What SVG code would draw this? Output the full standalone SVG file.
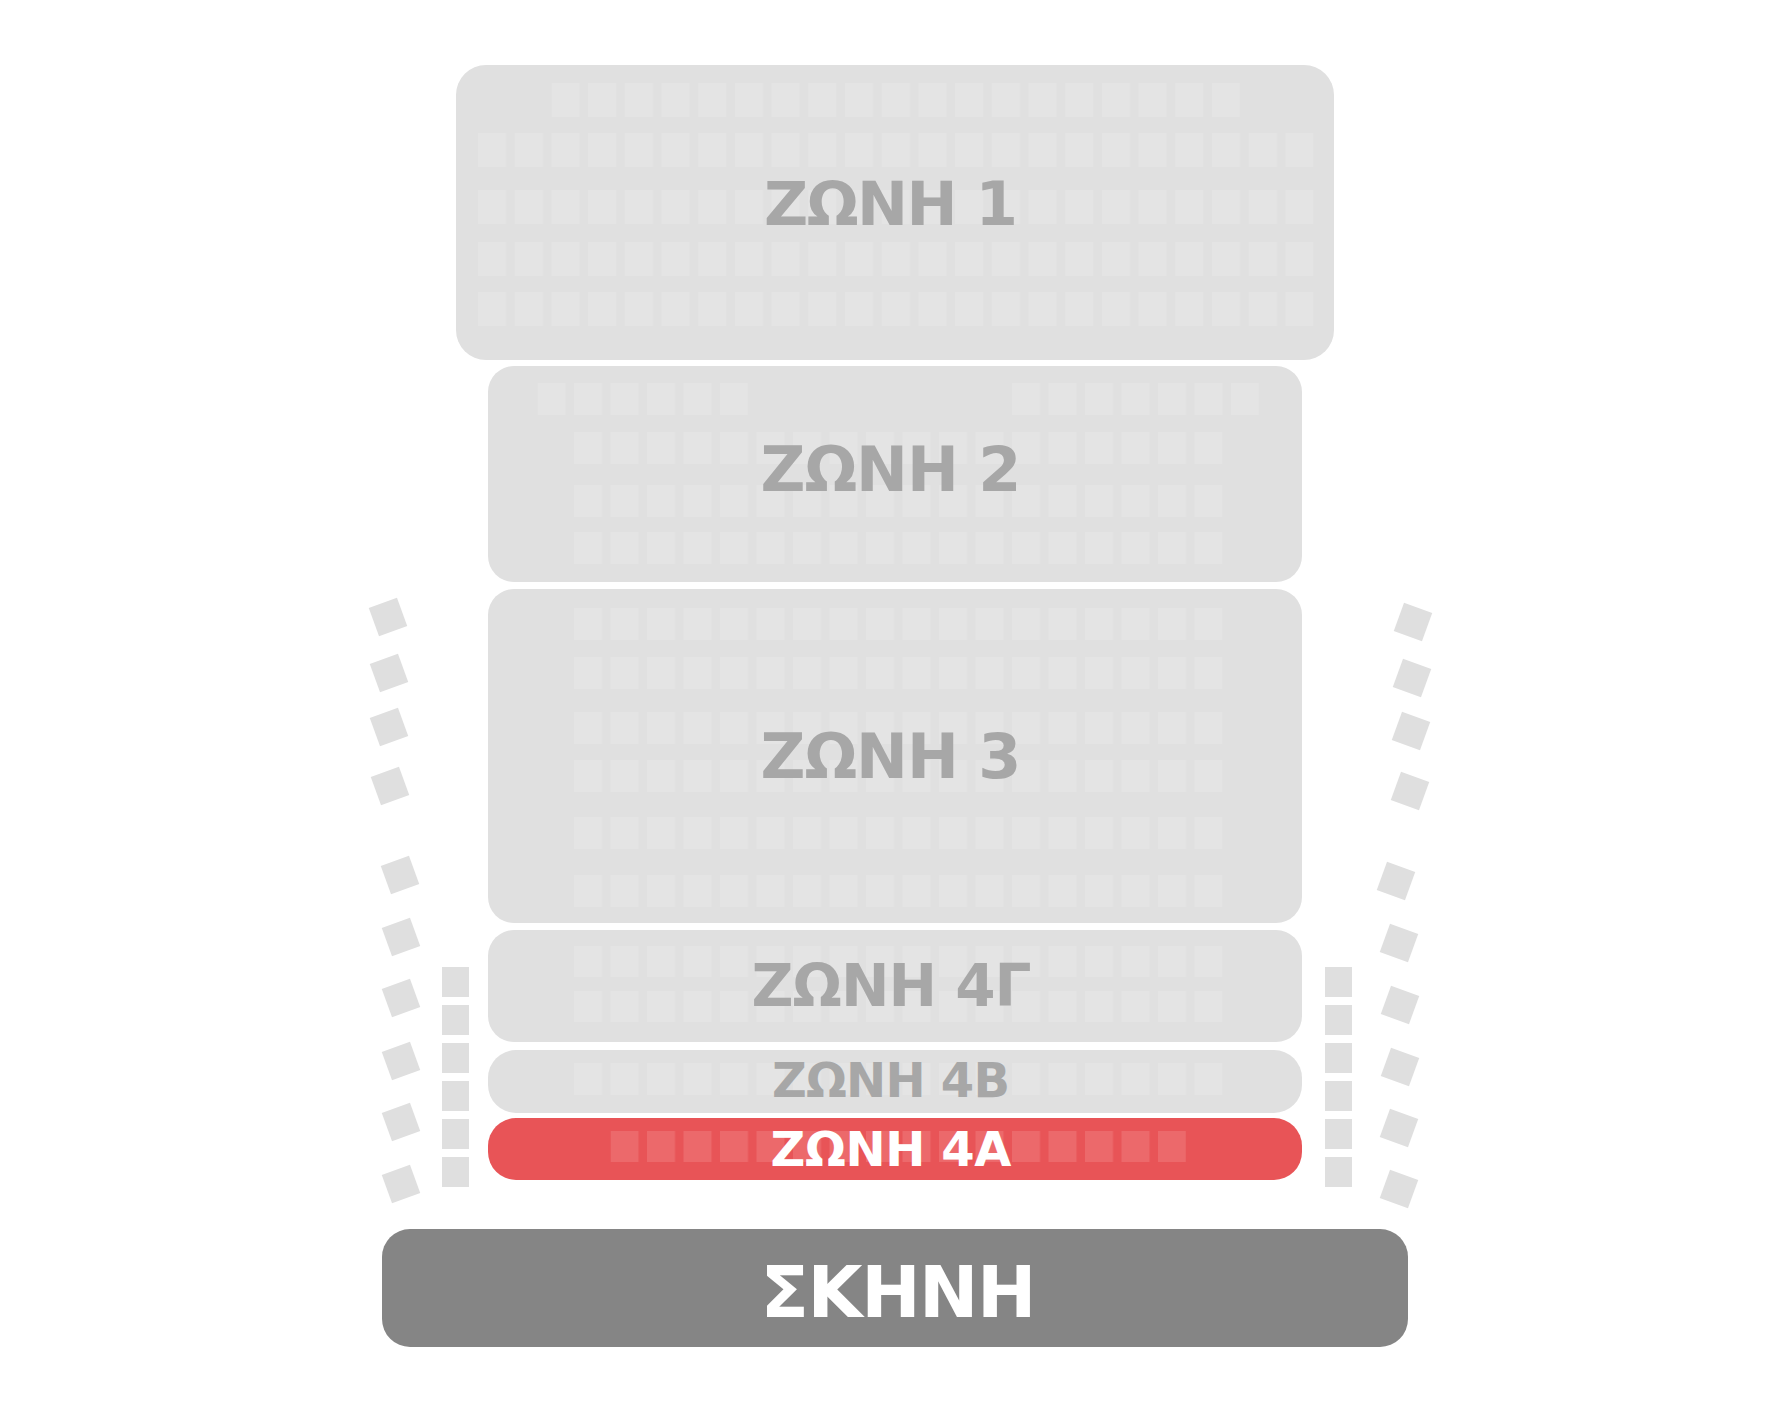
<svg xmlns="http://www.w3.org/2000/svg" xmlns:xlink="http://www.w3.org/1999/xlink" width="1783" height="1412" viewBox="0 0 1783 1412">
<style>
.zone{fill:#e0e0e0}
.red{fill:#e85457}
.stage{fill:#858585}
.side{fill:#dfdfdf}
.lbl{font-family:"DejaVu Sans","Liberation Sans",sans-serif;font-weight:700;text-anchor:middle}
.grey{fill:#a7a7a7}
.white{fill:#ffffff}
</style>
<defs>
<pattern id="p1" patternUnits="userSpaceOnUse" x="478" y="0" width="36.7" height="1412"><rect width="28" height="1412" fill="#e4e4e4"/></pattern>
<pattern id="p2" patternUnits="userSpaceOnUse" x="574" y="0" width="36.5" height="1412"><rect width="28" height="1412" fill="#e4e4e4"/></pattern>
<pattern id="p3" patternUnits="userSpaceOnUse" x="574" y="0" width="36.5" height="1412"><rect width="28" height="1412" fill="#ec696b"/></pattern>
<rect id="ss" x="-15" y="-15" width="30" height="30"/>
<rect id="sq" width="27" height="30"/>
</defs>
<rect width="1783" height="1412" fill="#ffffff"/>

<g id="zone1">
<rect class="zone" x="456" y="65" width="878" height="295" rx="30"/>
<rect x="551.4" y="83" width="688.6" height="34" fill="url(#p1)"/>
<rect x="478" y="133" width="835.4" height="34" fill="url(#p1)"/>
<rect x="478" y="190" width="835.4" height="34" fill="url(#p1)"/>
<rect x="478" y="242" width="835.4" height="34" fill="url(#p1)"/>
<rect x="478" y="292" width="835.4" height="34" fill="url(#p1)"/>
<text class="lbl grey" x="891" y="225" font-size="61" textLength="254" lengthAdjust="spacing">ΖΩΝΗ 1</text>
</g>

<g id="zone2">
<rect class="zone" x="488" y="366" width="814" height="216" rx="26"/>
<rect x="537.5" y="383" width="210.5" height="32" fill="url(#p2)"/>
<rect x="1012" y="383" width="247" height="32" fill="url(#p2)"/>
<rect x="574" y="432" width="648.5" height="32" fill="url(#p2)"/>
<rect x="574" y="485" width="648.5" height="32" fill="url(#p2)"/>
<rect x="574" y="532" width="648.5" height="32" fill="url(#p2)"/>
<text class="lbl grey" x="891" y="491" font-size="62" textLength="261" lengthAdjust="spacing">ΖΩΝΗ 2</text>
</g>

<g id="zone3">
<rect class="zone" x="488" y="589" width="814" height="334" rx="26"/>
<rect x="574" y="608" width="648.5" height="32" fill="url(#p2)"/>
<rect x="574" y="657" width="648.5" height="32" fill="url(#p2)"/>
<rect x="574" y="712" width="648.5" height="32" fill="url(#p2)"/>
<rect x="574" y="760" width="648.5" height="32" fill="url(#p2)"/>
<rect x="574" y="817" width="648.5" height="32" fill="url(#p2)"/>
<rect x="574" y="875" width="648.5" height="32" fill="url(#p2)"/>
<text class="lbl grey" x="891" y="778" font-size="62" textLength="261" lengthAdjust="spacing">ΖΩΝΗ 3</text>
</g>

<g id="zone4g">
<rect class="zone" x="488" y="930" width="814" height="112" rx="26"/>
<rect x="574" y="946" width="648.5" height="31" fill="url(#p2)"/>
<rect x="574" y="991" width="648.5" height="31" fill="url(#p2)"/>
<text class="lbl grey" x="891.5" y="1006" font-size="58" textLength="280" lengthAdjust="spacing">ΖΩΝΗ 4Γ</text>
</g>

<g id="zone4b">
<rect class="zone" x="488" y="1050" width="814" height="63" rx="28"/>
<rect x="574" y="1063" width="648.5" height="32" fill="url(#p2)"/>
<text class="lbl grey" x="891" y="1097" font-size="48" textLength="238" lengthAdjust="spacing">ΖΩΝΗ 4Β</text>
</g>

<g id="zone4a">
<rect class="red" x="488" y="1118" width="814" height="62" rx="28"/>
<rect x="610.5" y="1131" width="575.5" height="31" fill="url(#p3)"/>
<text class="lbl white" x="891" y="1166" font-size="48" textLength="241" lengthAdjust="spacing">ΖΩΝΗ 4Α</text>
</g>

<g id="stage">
<rect class="stage" x="382" y="1229" width="1026" height="118" rx="28"/>
<text class="lbl white" x="898.5" y="1317" font-size="71" textLength="276" lengthAdjust="spacing">ΣΚΗΝΗ</text>
</g>

<g id="side-left" class="side">
<use href="#ss" transform="translate(388,617) rotate(-20)"/>
<use href="#ss" transform="translate(389,673) rotate(-20)"/>
<use href="#ss" transform="translate(389,727) rotate(-20)"/>
<use href="#ss" transform="translate(390,786) rotate(-20)"/>
<use href="#ss" transform="translate(400,875) rotate(-20)"/>
<use href="#ss" transform="translate(401,937) rotate(-20)"/>
<use href="#ss" transform="translate(401,998) rotate(-20)"/>
<use href="#ss" transform="translate(401,1061) rotate(-20)"/>
<use href="#ss" transform="translate(401,1122) rotate(-20)"/>
<use href="#ss" transform="translate(401,1184) rotate(-20)"/>
<use href="#sq" x="442" y="967"/>
<use href="#sq" x="442" y="1005"/>
<use href="#sq" x="442" y="1043"/>
<use href="#sq" x="442" y="1081"/>
<use href="#sq" x="442" y="1119"/>
<use href="#sq" x="442" y="1157"/>
</g>

<g id="side-right" class="side">
<use href="#ss" transform="translate(1413,622) rotate(20)"/>
<use href="#ss" transform="translate(1412,678) rotate(20)"/>
<use href="#ss" transform="translate(1411,731) rotate(20)"/>
<use href="#ss" transform="translate(1410,791) rotate(20)"/>
<use href="#ss" transform="translate(1396,881) rotate(20)"/>
<use href="#ss" transform="translate(1399,943) rotate(20)"/>
<use href="#ss" transform="translate(1400,1005) rotate(20)"/>
<use href="#ss" transform="translate(1400,1067) rotate(20)"/>
<use href="#ss" transform="translate(1399,1128) rotate(20)"/>
<use href="#ss" transform="translate(1399,1189) rotate(20)"/>
<use href="#sq" x="1325" y="967"/>
<use href="#sq" x="1325" y="1005"/>
<use href="#sq" x="1325" y="1043"/>
<use href="#sq" x="1325" y="1081"/>
<use href="#sq" x="1325" y="1119"/>
<use href="#sq" x="1325" y="1157"/>
</g>

<g id="connectors"/>
</svg>
